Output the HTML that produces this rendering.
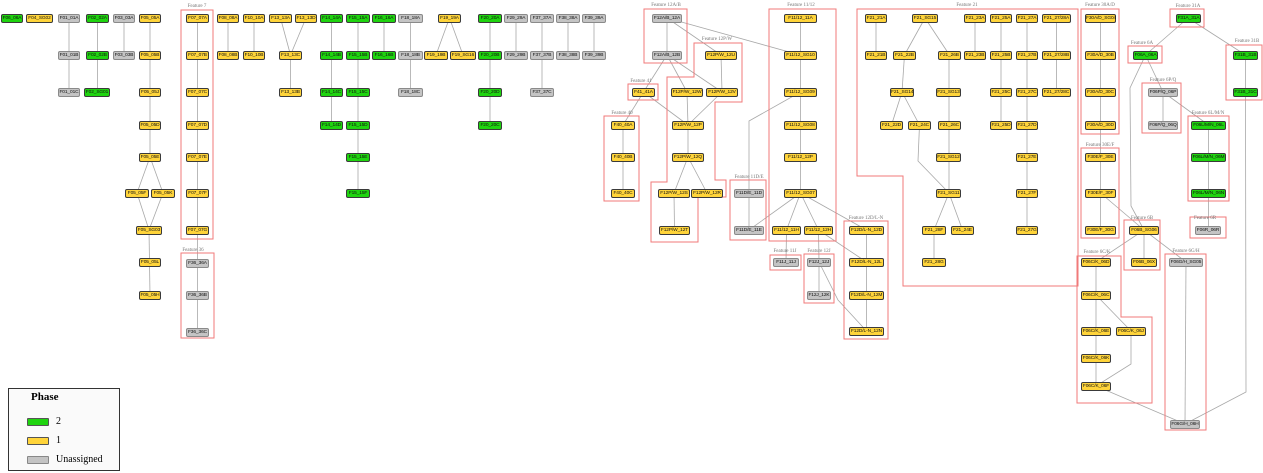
<!DOCTYPE html>
<html><head><meta charset="utf-8"><style>
html,body{margin:0;padding:0;background:#fff}
body{width:1263px;height:473px;position:relative;overflow:hidden}
svg{position:absolute;left:0;top:0}
.n{position:absolute;height:9px;box-sizing:border-box;border:1px solid #3a3a3a;border-radius:2px;font:4.8px "Liberation Sans",sans-serif;letter-spacing:-0.1px;line-height:7px;text-align:center;white-space:nowrap;overflow:visible;color:#111}
.y{background:#ffd43a}
.g{background:#1fd40f}
.u{background:#c4c4c4;border-color:#8a8a8a}
.lg{position:absolute;left:8px;top:388px;width:112px;height:83px;box-sizing:border-box;border:1.5px solid #333;background:#fafafa;font-family:"Liberation Serif",serif}
.lg b{position:absolute;left:22px;top:2px;font-size:11px}
.sw{position:absolute;left:18px;width:22px;height:8px;box-sizing:border-box;border:1px solid #555;border-radius:1px}
.lt{position:absolute;left:47px;font-size:10px;line-height:10px}
</style></head><body>
<svg width="1263" height="473" xmlns="http://www.w3.org/2000/svg">
<g stroke="#a8a8a8" stroke-width="0.8" fill="none">
<line x1="69" y1="18" x2="69" y2="92"/><line x1="97.5" y1="18" x2="97.5" y2="92"/><line x1="124" y1="18" x2="124" y2="55"/>
<line x1="150" y1="18" x2="150" y2="157"/><line x1="150" y1="157" x2="137" y2="193"/><line x1="150" y1="157" x2="163" y2="193"/>
<line x1="137" y1="193" x2="149" y2="230"/><line x1="163" y1="193" x2="149" y2="230"/><line x1="149" y1="230" x2="150" y2="295"/>
<line x1="197.5" y1="18" x2="197.5" y2="331"/><line x1="228" y1="18" x2="228" y2="55"/><line x1="254" y1="18" x2="254" y2="55"/>
<line x1="280.5" y1="18" x2="290.5" y2="55"/><line x1="306" y1="18" x2="290.5" y2="55"/><line x1="290.5" y1="55" x2="290.5" y2="92"/>
<line x1="331.5" y1="18" x2="331.5" y2="125"/><line x1="358" y1="18" x2="358" y2="193"/><line x1="384" y1="18" x2="384" y2="55"/>
<line x1="410.5" y1="18" x2="410.5" y2="92"/><line x1="449.5" y1="18" x2="436" y2="55"/><line x1="449.5" y1="18" x2="463" y2="55"/>
<line x1="490" y1="18" x2="490" y2="125"/><line x1="516" y1="18" x2="516" y2="55"/><line x1="542" y1="18" x2="542" y2="92"/>
<line x1="568" y1="18" x2="568" y2="55"/><line x1="594" y1="18" x2="594" y2="55"/>
<line x1="667" y1="18" x2="667" y2="55"/><line x1="667" y1="18" x2="800" y2="55"/><line x1="667" y1="18" x2="721" y2="55"/>
<line x1="667" y1="55" x2="643.5" y2="92"/><line x1="667" y1="55" x2="687" y2="92"/><line x1="667" y1="55" x2="722" y2="92"/>
<line x1="721" y1="55" x2="722" y2="92"/><line x1="687" y1="92" x2="688" y2="125"/><line x1="722" y1="92" x2="688" y2="125"/>
<line x1="643.5" y1="92" x2="688" y2="125"/><line x1="643.5" y1="92" x2="623" y2="125"/><line x1="623" y1="125" x2="623" y2="193"/>
<line x1="688" y1="125" x2="688" y2="157"/><line x1="688" y1="157" x2="674" y2="193"/><line x1="688" y1="157" x2="707" y2="193"/>
<line x1="674" y1="193" x2="674.5" y2="230"/>
<line x1="800.5" y1="18" x2="800.5" y2="193"/><polyline points="800.5,92 749,121 749,230"/>
<line x1="800.5" y1="193" x2="749" y2="230"/><line x1="800.5" y1="193" x2="786.5" y2="230"/><line x1="800.5" y1="193" x2="818.5" y2="230"/>
<line x1="800.5" y1="193" x2="866.5" y2="230"/><line x1="786.5" y1="230" x2="786" y2="262"/><line x1="818.5" y1="230" x2="819" y2="262"/>
<line x1="818.5" y1="230" x2="866.5" y2="262"/><polyline points="819,262 838,300 866.5,331"/><line x1="819" y1="262" x2="819" y2="295"/>
<line x1="866.5" y1="230" x2="866.5" y2="331"/>
<line x1="876" y1="18" x2="876" y2="55"/><line x1="925" y1="18" x2="904.5" y2="55"/><line x1="925" y1="18" x2="949.5" y2="55"/>
<line x1="904.5" y1="55" x2="902" y2="92"/><line x1="902" y1="92" x2="891.5" y2="125"/><line x1="902" y1="92" x2="919.5" y2="125"/>
<line x1="949" y1="55" x2="949" y2="193"/><polyline points="919.5,125 918,161 949,193"/><line x1="949" y1="193" x2="934" y2="230"/>
<line x1="949" y1="193" x2="962.5" y2="230"/><line x1="934" y1="230" x2="934" y2="262"/>
<line x1="975" y1="18" x2="975" y2="55"/><line x1="1001" y1="18" x2="1001" y2="125"/><line x1="1027" y1="18" x2="1027" y2="230"/><line x1="1056.5" y1="18" x2="1056.5" y2="92"/>
<line x1="1100.5" y1="18" x2="1100.5" y2="230"/><line x1="1100.5" y1="193" x2="1144" y2="230"/>
<line x1="1188" y1="18" x2="1145.5" y2="55"/><line x1="1188" y1="18" x2="1245.5" y2="55"/><line x1="1245.5" y1="55" x2="1245.5" y2="92"/>
<polyline points="1245.5,92 1246,392 1185,424"/><line x1="1145.5" y1="55" x2="1163" y2="92"/><polyline points="1145.5,55 1130,88 1131,206 1144,230"/>
<line x1="1163" y1="92" x2="1163" y2="125"/><line x1="1163" y1="92" x2="1208.5" y2="125"/><line x1="1208.5" y1="125" x2="1208.5" y2="230"/>
<line x1="1144" y1="230" x2="1144" y2="262"/><line x1="1144" y1="230" x2="1096" y2="262"/><line x1="1144" y1="230" x2="1186" y2="262"/>
<line x1="1096" y1="262" x2="1096" y2="386"/><line x1="1096" y1="295" x2="1131" y2="331"/><polyline points="1131,331 1131,364 1096,386"/>
<line x1="1096" y1="386" x2="1185" y2="424"/><line x1="1186" y1="262" x2="1185" y2="424"/>
</g>
<g stroke="#f07a7a" stroke-width="1" fill="none">
<rect x="181" y="10" width="32" height="229"/><rect x="181" y="253" width="33" height="85"/>
<rect x="644" y="9" width="43" height="54"/><rect x="628" y="84" width="30" height="16"/><rect x="604" y="116" width="35" height="85"/>
<polygon points="694,43 742,43 742,102 715,102 715,180 726,180 726,197 698,197 698,242 651,242 651,182 667,182 667,77 694,77"/>
<rect x="769" y="9" width="67" height="232"/><rect x="730" y="180" width="36" height="60"/><rect x="844" y="221" width="44" height="118"/>
<rect x="770" y="255" width="31" height="15"/><rect x="804" y="254" width="30" height="49"/>
<polygon points="857,9 1078,9 1078,286 903,286 903,176 857,176"/>
<rect x="1081" y="9" width="38" height="125"/><rect x="1081" y="148" width="38" height="90"/>
<rect x="1170" y="9" width="34" height="18"/><rect x="1128" y="46" width="34" height="17"/><rect x="1226" y="45" width="36" height="55"/>
<rect x="1142" y="83" width="39" height="50"/><rect x="1188" y="116" width="41" height="85"/><rect x="1190" y="217" width="36" height="21"/>
<rect x="1124" y="220" width="36" height="50"/><polygon points="1077,256 1121,256 1121,317 1152,317 1152,403 1077,403"/>
<rect x="1165" y="254" width="41" height="176"/>
</g>
<g font-family="Liberation Serif,serif" font-size="5" fill="#777" text-anchor="middle">
<text x="197" y="7">Feature 7</text><text x="193" y="251">Feature 36</text><text x="666" y="6">Feature 12A/B</text>
<text x="717" y="40">Feature 12P/W</text><text x="641" y="82">Feature 41</text><text x="622" y="114">Feature 40</text>
<text x="801" y="6">Feature 11/12</text><text x="749" y="178">Feature 11D/E</text><text x="866" y="219">Feature 12D/L-N</text>
<text x="785" y="252">Feature 11J</text><text x="819" y="252">Feature 12J</text><text x="967" y="6">Feature 21</text>
<text x="1100" y="6">Feature 30A/D</text><text x="1100" y="146">Feature 30E/F</text><text x="1188" y="7">Feature 31A</text>
<text x="1142" y="44">Feature 6A</text><text x="1247" y="42">Feature 31B</text><text x="1163" y="81">Feature 6P/Q</text>
<text x="1208" y="114">Feature 6L/M/N</text><text x="1205" y="219">Feature 6R</text><text x="1142" y="219">Feature 6B</text>
<text x="1097" y="253">Feature 6C/K</text><text x="1186" y="252">Feature 6G/H</text>
</g>
</svg>

<div class="n g" style="left:1px;top:13.5px;width:22px">F06_06A</div>
<div class="n y" style="left:26px;top:13.5px;width:27px">F04_SG02</div>
<div class="n u" style="left:58px;top:13.5px;width:22px">F01_01A</div>
<div class="n g" style="left:86px;top:13.5px;width:23px">F02_02A</div>
<div class="n u" style="left:113px;top:13.5px;width:22px">F03_03A</div>
<div class="n y" style="left:139px;top:13.5px;width:22px">F05_05A</div>
<div class="n y" style="left:186px;top:13.5px;width:23px">F07_07A</div>
<div class="n y" style="left:217px;top:13.5px;width:22px">F08_08A</div>
<div class="n y" style="left:243px;top:13.5px;width:22px">F10_10A</div>
<div class="n y" style="left:269px;top:13.5px;width:23px">F13_13A</div>
<div class="n y" style="left:295px;top:13.5px;width:22px">F13_13D</div>
<div class="n g" style="left:320px;top:13.5px;width:23px">F14_14A</div>
<div class="n g" style="left:346px;top:13.5px;width:24px">F15_15A</div>
<div class="n g" style="left:372px;top:13.5px;width:24px">F16_16A</div>
<div class="n u" style="left:398px;top:13.5px;width:25px">F18_18A</div>
<div class="n y" style="left:438px;top:13.5px;width:23px">F19_19A</div>
<div class="n g" style="left:478px;top:13.5px;width:24px">F20_20A</div>
<div class="n u" style="left:504px;top:13.5px;width:24px">F29_29A</div>
<div class="n u" style="left:530px;top:13.5px;width:24px">F37_37A</div>
<div class="n u" style="left:556px;top:13.5px;width:24px">F38_38A</div>
<div class="n u" style="left:582px;top:13.5px;width:24px">F39_39A</div>

<div class="n u" style="left:58px;top:50.5px;width:22px">F01_01B</div>
<div class="n g" style="left:86px;top:50.5px;width:23px">F02_02B</div>
<div class="n u" style="left:113px;top:50.5px;width:22px">F03_03B</div>
<div class="n y" style="left:139px;top:50.5px;width:22px">F05_05B</div>
<div class="n y" style="left:186px;top:50.5px;width:23px">F07_07B</div>
<div class="n y" style="left:217px;top:50.5px;width:22px">F08_08B</div>
<div class="n y" style="left:243px;top:50.5px;width:22px">F10_10B</div>
<div class="n y" style="left:279px;top:50.5px;width:23px">F13_13C</div>
<div class="n g" style="left:320px;top:50.5px;width:23px">F14_14B</div>
<div class="n g" style="left:346px;top:50.5px;width:24px">F15_15B</div>
<div class="n g" style="left:372px;top:50.5px;width:24px">F16_16B</div>
<div class="n u" style="left:398px;top:50.5px;width:25px">F18_18B</div>
<div class="n y" style="left:424px;top:50.5px;width:24px">F19_19B</div>
<div class="n y" style="left:450px;top:50.5px;width:26px">F19_SG16</div>
<div class="n g" style="left:478px;top:50.5px;width:24px">F20_20B</div>
<div class="n u" style="left:504px;top:50.5px;width:24px">F29_29B</div>
<div class="n u" style="left:530px;top:50.5px;width:24px">F37_37B</div>
<div class="n u" style="left:556px;top:50.5px;width:24px">F38_38B</div>
<div class="n u" style="left:582px;top:50.5px;width:24px">F39_39B</div>

<div class="n u" style="left:58px;top:87.5px;width:22px">F01_01C</div>
<div class="n g" style="left:84px;top:87.5px;width:26px">F02_SG01</div>
<div class="n y" style="left:139px;top:87.5px;width:22px">F05_05J</div>
<div class="n y" style="left:186px;top:87.5px;width:23px">F07_07C</div>
<div class="n y" style="left:279px;top:87.5px;width:23px">F13_13B</div>
<div class="n g" style="left:320px;top:87.5px;width:23px">F14_14C</div>
<div class="n g" style="left:346px;top:87.5px;width:24px">F15_15C</div>
<div class="n u" style="left:398px;top:87.5px;width:25px">F18_18C</div>
<div class="n g" style="left:478px;top:87.5px;width:24px">F20_20D</div>
<div class="n u" style="left:530px;top:87.5px;width:24px">F37_37C</div>

<div class="n y" style="left:139px;top:120.5px;width:22px">F05_05D</div>
<div class="n y" style="left:186px;top:120.5px;width:23px">F07_07D</div>
<div class="n g" style="left:320px;top:120.5px;width:23px">F14_14D</div>
<div class="n g" style="left:346px;top:120.5px;width:24px">F15_15D</div>
<div class="n g" style="left:478px;top:120.5px;width:24px">F20_20C</div>

<div class="n y" style="left:139px;top:152.5px;width:22px">F05_05E</div>
<div class="n y" style="left:186px;top:152.5px;width:23px">F07_07E</div>
<div class="n g" style="left:346px;top:152.5px;width:24px">F15_15E</div>

<div class="n y" style="left:125px;top:188.5px;width:24px">F05_05F</div>
<div class="n y" style="left:151px;top:188.5px;width:24px">F05_05K</div>
<div class="n y" style="left:186px;top:188.5px;width:23px">F07_07F</div>
<div class="n g" style="left:346px;top:188.5px;width:24px">F15_15F</div>

<div class="n y" style="left:136px;top:225.5px;width:26px">F05_SG03</div>
<div class="n y" style="left:186px;top:225.5px;width:23px">F07_07G</div>
<div class="n y" style="left:139px;top:257.5px;width:22px">F05_05L</div>
<div class="n u" style="left:186px;top:258.5px;width:23px">F36_36A</div>
<div class="n y" style="left:139px;top:290.5px;width:22px">F05_05H</div>
<div class="n u" style="left:186px;top:290.5px;width:23px">F36_36B</div>
<div class="n u" style="left:186px;top:327.5px;width:23px">F36_36C</div>

<div class="n u" style="left:652px;top:13.5px;width:30px">F12A/B_12A</div>
<div class="n u" style="left:652px;top:50.5px;width:30px">F12A/B_12B</div>
<div class="n y" style="left:705px;top:50.5px;width:32px">F12P/W_12U</div>
<div class="n y" style="left:632px;top:87.5px;width:23px">F41_41A</div>
<div class="n y" style="left:671px;top:87.5px;width:32px">F12P/W_12W</div>
<div class="n y" style="left:706px;top:87.5px;width:32px">F12P/W_12V</div>
<div class="n y" style="left:672px;top:120.5px;width:32px">F12P/W_12P</div>
<div class="n y" style="left:672px;top:152.5px;width:32px">F12P/W_12Q</div>
<div class="n y" style="left:658px;top:188.5px;width:32px">F12P/W_12S</div>
<div class="n y" style="left:691px;top:188.5px;width:32px">F12P/W_12R</div>
<div class="n y" style="left:659px;top:225.5px;width:31px">F12P/W_12T</div>
<div class="n y" style="left:611px;top:120.5px;width:24px">F40_40A</div>
<div class="n y" style="left:611px;top:152.5px;width:24px">F40_40B</div>
<div class="n y" style="left:611px;top:188.5px;width:24px">F40_40C</div>

<div class="n y" style="left:784px;top:13.5px;width:33px">F11/12_11A</div>
<div class="n y" style="left:784px;top:50.5px;width:33px">F11/12_SG10</div>
<div class="n y" style="left:784px;top:87.5px;width:33px">F11/12_SG09</div>
<div class="n y" style="left:784px;top:120.5px;width:33px">F11/12_SG08</div>
<div class="n y" style="left:784px;top:152.5px;width:33px">F11/12_12P</div>
<div class="n y" style="left:784px;top:188.5px;width:33px">F11/12_SG07</div>
<div class="n y" style="left:772px;top:225.5px;width:29px">F11/12_11H</div>
<div class="n y" style="left:804px;top:225.5px;width:29px">F11/12_12H</div>
<div class="n u" style="left:734px;top:188.5px;width:30px">F11D/E_11D</div>
<div class="n u" style="left:734px;top:225.5px;width:30px">F11D/E_11E</div>
<div class="n u" style="left:773px;top:257.5px;width:26px">F11J_11J</div>
<div class="n u" style="left:807px;top:257.5px;width:24px">F12J_12J</div>
<div class="n u" style="left:807px;top:290.5px;width:24px">F12J_12K</div>
<div class="n y" style="left:849px;top:225.5px;width:35px">F12D/L-N_12D</div>
<div class="n y" style="left:849px;top:257.5px;width:35px">F12D/L-N_12L</div>
<div class="n y" style="left:849px;top:290.5px;width:35px">F12D/L-N_12M</div>
<div class="n y" style="left:849px;top:326.5px;width:35px">F12D/L-N_12N</div>

<div class="n y" style="left:865px;top:13.5px;width:22px">F21_21A</div>
<div class="n y" style="left:912px;top:13.5px;width:26px">F21_SG15</div>
<div class="n y" style="left:964px;top:13.5px;width:22px">F21_23A</div>
<div class="n y" style="left:990px;top:13.5px;width:22px">F21_25A</div>
<div class="n y" style="left:1016px;top:13.5px;width:22px">F21_27A</div>
<div class="n y" style="left:1042px;top:13.5px;width:29px">F21_27/28A</div>
<div class="n y" style="left:865px;top:50.5px;width:22px">F21_21B</div>
<div class="n y" style="left:893px;top:50.5px;width:23px">F21_22B</div>
<div class="n y" style="left:938px;top:50.5px;width:23px">F21_26B</div>
<div class="n y" style="left:964px;top:50.5px;width:22px">F21_23B</div>
<div class="n y" style="left:990px;top:50.5px;width:22px">F21_25B</div>
<div class="n y" style="left:1016px;top:50.5px;width:22px">F21_27B</div>
<div class="n y" style="left:1042px;top:50.5px;width:29px">F21_27/28B</div>
<div class="n y" style="left:890px;top:87.5px;width:24px">F21_SG14</div>
<div class="n y" style="left:936px;top:87.5px;width:25px">F21_SG13</div>
<div class="n y" style="left:990px;top:87.5px;width:22px">F21_25C</div>
<div class="n y" style="left:1016px;top:87.5px;width:22px">F21_27C</div>
<div class="n y" style="left:1042px;top:87.5px;width:29px">F21_27/28C</div>
<div class="n y" style="left:880px;top:120.5px;width:23px">F21_22D</div>
<div class="n y" style="left:908px;top:120.5px;width:23px">F21_24C</div>
<div class="n y" style="left:938px;top:120.5px;width:23px">F21_26C</div>
<div class="n y" style="left:990px;top:120.5px;width:22px">F21_25D</div>
<div class="n y" style="left:1016px;top:120.5px;width:22px">F21_27D</div>
<div class="n y" style="left:936px;top:152.5px;width:25px">F21_SG12</div>
<div class="n y" style="left:1016px;top:152.5px;width:22px">F21_27E</div>
<div class="n y" style="left:936px;top:188.5px;width:25px">F21_SG11</div>
<div class="n y" style="left:1016px;top:188.5px;width:22px">F21_27F</div>
<div class="n y" style="left:922px;top:225.5px;width:24px">F21_28F</div>
<div class="n y" style="left:951px;top:225.5px;width:23px">F21_24E</div>
<div class="n y" style="left:1016px;top:225.5px;width:22px">F21_27G</div>
<div class="n y" style="left:922px;top:257.5px;width:24px">F21_28G</div>

<div class="n y" style="left:1085px;top:13.5px;width:31px">F30A/D_SG04</div>
<div class="n y" style="left:1085px;top:50.5px;width:31px">F30A/D_30B</div>
<div class="n y" style="left:1085px;top:87.5px;width:31px">F30A/D_30C</div>
<div class="n y" style="left:1085px;top:120.5px;width:31px">F30A/D_30D</div>
<div class="n y" style="left:1085px;top:152.5px;width:31px">F30E/F_30E</div>
<div class="n y" style="left:1085px;top:188.5px;width:31px">F30E/F_30F</div>
<div class="n y" style="left:1085px;top:225.5px;width:31px">F30E/F_30G</div>
<div class="n g" style="left:1176px;top:13.5px;width:25px">F31A_31A</div>
<div class="n g" style="left:1133px;top:50.5px;width:25px">F06A_06A</div>
<div class="n g" style="left:1233px;top:50.5px;width:25px">F31B_31B</div>
<div class="n g" style="left:1233px;top:87.5px;width:25px">F31B_31C</div>
<div class="n u" style="left:1148px;top:87.5px;width:30px">F06P/Q_06P</div>
<div class="n u" style="left:1148px;top:120.5px;width:30px">F06P/Q_06Q</div>
<div class="n g" style="left:1191px;top:120.5px;width:35px">F06L/M/N_06L</div>
<div class="n g" style="left:1191px;top:152.5px;width:35px">F06L/M/N_06M</div>
<div class="n g" style="left:1191px;top:188.5px;width:35px">F06L/M/N_06N</div>
<div class="n u" style="left:1195px;top:225.5px;width:26px">F06R_06R</div>
<div class="n y" style="left:1129px;top:225.5px;width:30px">F06B_SG06</div>
<div class="n y" style="left:1131px;top:257.5px;width:26px">F06B_06X</div>
<div class="n y" style="left:1081px;top:257.5px;width:30px">F06C/K_06D</div>
<div class="n y" style="left:1081px;top:290.5px;width:30px">F06C/K_06C</div>
<div class="n y" style="left:1081px;top:326.5px;width:30px">F06C/K_06E</div>
<div class="n y" style="left:1116px;top:326.5px;width:30px">F06C/K_06J</div>
<div class="n y" style="left:1081px;top:353.5px;width:30px">F06C/K_06K</div>
<div class="n y" style="left:1081px;top:381.5px;width:30px">F06C/K_06F</div>
<div class="n u" style="left:1169px;top:257.5px;width:34px">F06G/H_SG05</div>
<div class="n u" style="left:1170px;top:419.5px;width:30px">F06G/H_06H</div>

<div class="lg"><b>Phase</b>
<div class="sw g" style="top:29px;background:#1fd40f"></div><div class="lt" style="top:28px">2</div>
<div class="sw" style="top:48px;background:#ffd43a"></div><div class="lt" style="top:47px">1</div>
<div class="sw" style="top:67px;background:#c4c4c4;border-color:#888"></div><div class="lt" style="top:66px">Unassigned</div>
</div>
</body></html>
